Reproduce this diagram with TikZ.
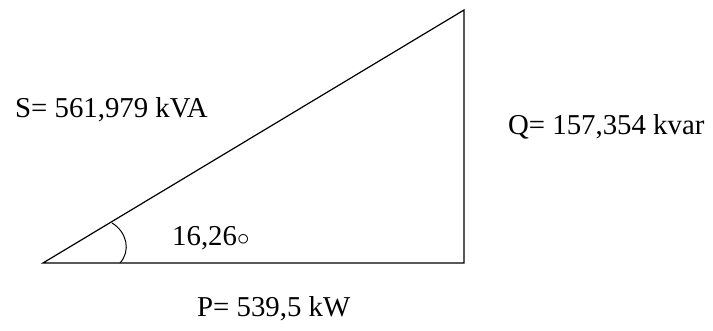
\documentclass[tikz,border=0pt]{standalone}
\usepackage{fontspec}
\setmainfont{Liberation Serif}
\usetikzlibrary{positioning,calc}
\tikzset{
  lbl/.style={anchor=west,inner sep=0pt,font=\fontsize{28.8}{32}\selectfont},
  side/.style={line width=1.2pt,line cap=round}
}

\begin{document}
\begin{tikzpicture}[x=1pt,y=1pt]
  \useasboundingbox (0,0) rectangle (713,331);
  \coordinate (a) at (43,68);
  \coordinate (b) at (464,68);
  \coordinate (c) at (464,321);
  \draw[side] (a)--(b)--(c)--cycle;
  % angle mark
  \draw[line width=1pt] ($(a)+(77,0)$) .. controls (131,80) and (127,99) .. (112,108);
  \node[lbl] (s) at (15,221) {S= 561,979 kVA};
  \node[lbl] (q) at (508,204) {Q= 157,354 kvar};
  \node[lbl] (p) at (197,22) {P= 539,5 kW};
  \node[lbl] (ang) at (172,93) {16,26$\circ$};
\end{tikzpicture}
\end{document}
